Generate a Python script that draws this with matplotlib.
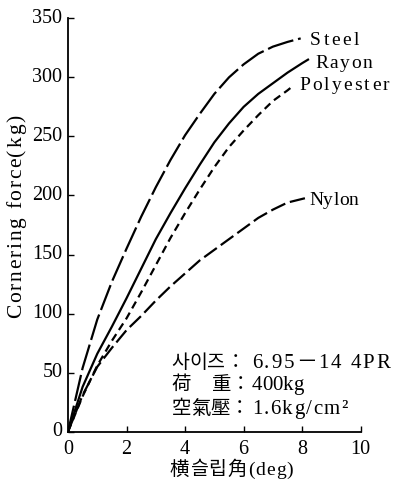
import matplotlib
matplotlib.use("Agg")
import matplotlib.pyplot as plt
from matplotlib.font_manager import FontProperties, findfont
from matplotlib.ft2font import FT2Font
from matplotlib.transforms import ScaledTranslation

FAM = ['Liberation Serif', 'Noto Sans CJK KR']
plt.rcParams['font.family'] = FAM

# Data (slip angle in deg, cornering force in kg)
steel_x = [0, 0.5, 1, 1.5, 2, 2.5, 3, 3.5, 4, 4.5, 5, 5.5, 6, 6.5, 7, 7.5, 7.95]
steel_y = [0, 54, 95, 127, 155, 182, 207, 230, 251, 269, 286, 300, 311, 320, 326, 330, 333]
rayon_x = [0, 0.5, 1, 1.5, 2, 2.5, 3, 3.5, 4, 4.5, 5, 5.5, 6, 6.5, 7, 7.5, 8, 8.2]
rayon_y = [0, 38, 66, 89, 113, 138, 163, 185, 206, 226, 245, 261, 275, 286, 295, 304, 312, 315]
poly_x = [0, 0.5, 1, 1.5, 2, 2.5, 3, 3.5, 4, 4.5, 5, 5.5, 6, 6.5, 7, 7.5, 7.7]
poly_y = [0, 30, 56, 77, 96, 118, 141, 164, 185, 205, 224, 241, 255, 268, 280, 289, 293]
nylon_x = [0, 0.5, 1, 1.5, 2, 2.5, 3, 3.5, 4, 4.5, 5, 5.5, 6, 6.5, 7, 7.5, 8.15]
nylon_y = [0, 31, 55, 71, 86, 98, 111, 123, 134, 145, 154, 163, 172, 181, 188, 194, 198]
series_names = ['Steel', 'Rayon', 'Polyester', 'Nylon']
x_ticks = [0, 2, 4, 6, 8, 10]
y_ticks = [0, 50, 100, 150, 200, 250, 300, 350]

FW, FH = 393, 489
DPI = 100
fig = plt.figure(figsize=(FW / DPI, FH / DPI), dpi=DPI)
ax = fig.add_axes([68/FW, 1-432.7/FH, 292.7/FW, 413.4/FH])

_font_files = [findfont(FontProperties(family=f)) for f in FAM]


def _advance(ch, size):
    for path in _font_files:
        f = FT2Font(path)
        if f.get_char_index(ord(ch)) != 0:
            f.set_size(size, DPI)
            g = f.load_char(ord(ch))
            return g.linearHoriAdvance / 65536.0
    return size * DPI / 72 * 0.5


def tracked(s, x, y, size, track, ha='left', rotation=0):
    """Text drawn letter by letter with extra spacing; x, y in pixels from top-left (baseline)."""
    advs = [_advance(ch, size) for ch in s]
    total = sum(advs) + track * (len(s) - 1)
    start = {'left': 0, 'center': -total / 2, 'right': -total}[ha]
    off = start
    for ch, a in zip(s, advs):
        if ch != ' ':
            if rotation == 0:
                px, py = x + off, y
            else:
                px, py = x, y - off
            fig.text(px / FW, 1 - py / FH, ch, family=FAM, fontsize=size, rotation=rotation,
                     rotation_mode='anchor', ha='left', va='baseline')
        off += a + track


lw = 1.6
ax.plot(steel_x, steel_y, color='black', lw=lw, linestyle=(0, (12, 2.2)))
ax.plot(rayon_x, rayon_y, color='black', lw=lw, linestyle='-')
ax.plot(poly_x, poly_y, color='black', lw=lw, linestyle=(0, (3.5, 2.2)))
ax.plot(nylon_x, nylon_y, color='black', lw=lw, linestyle=(0, (7, 2.2)))

ax.set_xlim(0, 10)
ax.set_ylim(0, 350)
ax.set_xticks(x_ticks)
ax.set_yticks(y_ticks)
ax.tick_params(direction='in', length=4, width=1, labelsize=14.5)
ax.tick_params(axis='x', pad=5)
ax.tick_params(axis='y', pad=4)
shift = ScaledTranslation(0, 2.5 / 72, fig.dpi_scale_trans)
for lab in ax.get_yticklabels():
    lab.set_transform(lab.get_transform() + shift)
for s in ['top', 'right']:
    ax.spines[s].set_visible(False)
for s in ['left', 'bottom']:
    ax.spines[s].set_linewidth(1.3)

# series labels
tracked(series_names[0], 310, 45, 14, 2.6)
tracked(series_names[1], 315, 68, 14, 1.6)
tracked(series_names[2], 299, 90, 14, 2.2)
tracked(series_names[3], 309, 205, 14, 0.2)

# condition block
tracked('사이즈：', 171.7, 368, 14, 0)
tracked('6.95－14 4PR', 251.7, 368, 15, 1.9)
tracked('荷', 171.7, 390, 14, 0)
tracked('重：', 211.7, 390, 14, 0)
tracked('400kg', 251.7, 390, 15, 0)
tracked('空氣壓：', 171.7, 414, 14, 0)
tracked('1.6kg/cm²', 251.7, 414, 15, 1.4)

# axis labels
tracked('横슬립角(deg)', 231, 475, 14, 1.0, ha='center')
tracked('Cornering force(kg)', 21.5, 318, 15.5, 1.7, rotation=90)

fig.savefig('out.png', dpi=DPI)
